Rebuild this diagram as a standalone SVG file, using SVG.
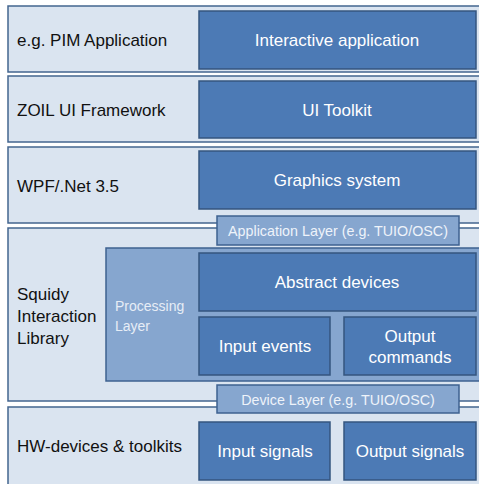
<svg xmlns="http://www.w3.org/2000/svg" width="479" height="484" viewBox="0 0 479 484">
<style>
.band{fill:#dae4f0;stroke:#43658f;stroke-width:1.5}
.box{fill:#4c7ab5;stroke:#34557f;stroke-width:1.5}
.lite{fill:#86a6cf;stroke:#3e6190;stroke-width:1.5}
.lbl{font-family:"Liberation Sans",Arial,sans-serif;font-size:17px;fill:#111}
.w{font-family:"Liberation Sans",Arial,sans-serif;font-size:17px;fill:#fff;text-anchor:middle}
.s{font-family:"Liberation Sans",Arial,sans-serif;font-size:14.3px;fill:#eef3fa;text-anchor:middle}
.p{font-family:"Liberation Sans",Arial,sans-serif;font-size:14px;fill:#e6edf6}
</style>
<rect width="479" height="484" fill="#fff"/>
<g id="layer-app">
<rect class="band" x="8" y="6" width="474" height="66"/>
<text class="lbl" x="17" y="46">e.g. PIM Application</text>
<rect class="box" x="199" y="11" width="277" height="58"/>
<text class="w" x="337" y="46">Interactive application</text>
</g>
<g id="layer-zoil">
<rect class="band" x="8" y="76" width="474" height="66"/>
<text class="lbl" x="17" y="116">ZOIL UI Framework</text>
<rect class="box" x="199" y="81" width="277" height="57"/>
<text class="w" x="337" y="116">UI Toolkit</text>
</g>
<g id="layer-wpf">
<rect class="band" x="8" y="147" width="474" height="76"/>
<text class="lbl" x="17" y="192">WPF/.Net 3.5</text>
<rect class="box" x="199" y="151" width="277" height="58"/>
<text class="w" x="337" y="186">Graphics system</text>
</g>
<g id="layer-squidy">
<rect class="band" x="8" y="228" width="474" height="173"/>
<text class="lbl" x="17" y="300">Squidy</text>
<text class="lbl" x="17" y="322">Interaction</text>
<text class="lbl" x="17" y="344">Library</text>
</g>
<g id="processing-layer">
<rect class="lite" x="106" y="248" width="376" height="133"/>
<text class="p" x="115" y="311">Processing</text>
<text class="p" x="115" y="331">Layer</text>
</g>
<g id="abstract-devices">
<rect class="box" x="199" y="253" width="277" height="58"/>
<text class="w" x="337" y="288">Abstract devices</text>
</g>
<g id="input-events">
<rect class="box" x="199" y="317" width="131" height="58"/>
<text class="w" x="265" y="352">Input events</text>
</g>
<g id="output-commands">
<rect class="box" x="344" y="317" width="132" height="58"/>
<text class="w" x="410" y="342">Output</text>
<text class="w" x="410" y="363">commands</text>
</g>
<g id="layer-hw">
<rect class="band" x="8" y="407" width="474" height="82"/>
<text class="lbl" x="17" y="452">HW-devices &amp; toolkits</text>
</g>
<g id="input-signals">
<rect class="box" x="199" y="422" width="131" height="58"/>
<text class="w" x="265" y="457">Input signals</text>
</g>
<g id="output-signals">
<rect class="box" x="344" y="422" width="132" height="58"/>
<text class="w" x="410" y="457">Output signals</text>
</g>
<g id="application-layer">
<rect class="lite" x="217" y="216" width="242" height="29"/>
<text class="s" x="338" y="236">Application Layer (e.g. TUIO/OSC)</text>
</g>
<g id="device-layer">
<rect class="lite" x="217" y="385" width="242" height="28"/>
<text class="s" x="338" y="405">Device Layer (e.g. TUIO/OSC)</text>
</g>
<g id="connectors"></g>
</svg>
